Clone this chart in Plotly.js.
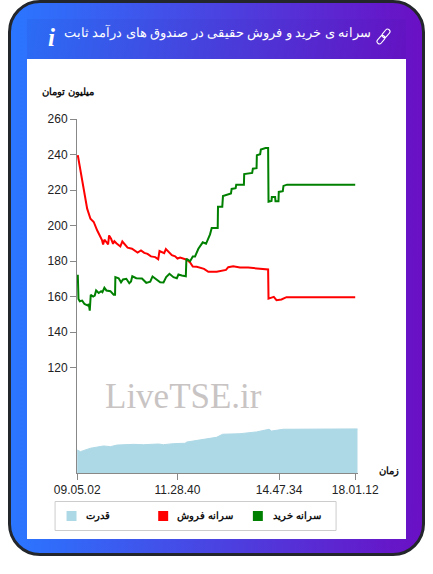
<!DOCTYPE html>
<html><head><meta charset="utf-8">
<script src="https://cdn.plot.ly/plotly-3.0.1.min.js"></script>
<style>
html,body{margin:0;padding:0;background:#fff;width:433px;height:574px;overflow:hidden}
#card{position:absolute;left:8px;top:0;width:411px;height:550px;border:3px solid #23262b;border-radius:32px;background:linear-gradient(90deg,#2a76ff 0%,#6a10c4 100%)}
#head{position:absolute;left:27px;top:19px;width:379px;height:40px;background:linear-gradient(100deg,#2b6cf5 0%,#6412c2 100%)}
#panel{position:absolute;left:27px;top:59px;width:379px;height:480px;background:#fff}
#icon{position:absolute;left:375px;top:28px}
#plot{position:absolute;left:0;top:0;width:433px;height:574px}
</style></head><body>
<div id="card"></div><div id="head"></div><div id="panel"></div>
<svg id="icon" width="17" height="17" viewBox="0 0 17 17" fill="none" stroke="#fff" stroke-width="1.1">
<rect x="8.6" y="0.6" width="4.8" height="9.5" rx="2.4" transform="rotate(40 11 5.4)"/>
<rect x="3.6" y="6.9" width="4.8" height="9.5" rx="2.4" transform="rotate(40 6 11.6)"/>
</svg>
<div id="plot"></div>
<script>
const titleText = 'سرانه ی خرید و فروش حقیقی در صندوق های درآمد ثابت';
const yUnit = 'میلیون تومان';
const xUnit = 'زمان';
const buyName = 'سرانه خرید';
const sellName = 'سرانه فروش';
const powerName = 'قدرت';
const watermark = 'LiveTSE.ir';

const tickIndex = [0.7, 101.3, 203.3, 279.7];
const tickTimes = ['09.05.02', '11.28.40', '14.47.34', '18.01.12'];
const yTicks = [120, 140, 160, 180, 200, 220, 240, 260];

const sellIdx = [1.3,3.3,5.7,8,10.7,14,17.3,20.7,24,25.7,26.7,28,30,31.7,32.7,34.7,36.7,38,40,42.3,44,46,48,51.3,55.7,59,61.3,64.7,68,71.3,74.7,79,82,83.3,85.7,88,89.7,92.3,95.7,99,101.3,104,107.3,110.7,114,116.7,120.7,124,128,132.3,140.7,150,152.3,157.3,164,172.3,180.7,192.3,192.7,195.7,198,200.7,205.7,210.7,279.7];
const sellVal = [239.6,233,225.5,218,209.5,203.8,202,197.3,193.5,191.6,189.3,192,190.7,189.3,194.4,192.5,189.7,191.2,190,188.8,188.2,191,189.7,187.5,186.9,185.6,184.8,186,184.6,184,182.6,182.2,181,185.6,184.8,184.4,186.7,185,183.3,182.6,181.4,182,181.2,180.7,179.2,176.9,176.7,176,175.6,173.9,173.9,175,176.5,177.1,176.3,176.3,175.8,175.2,158.8,159.2,159.8,157.9,158.3,159.6,159.6];

const buyIdx = [1.3,2,3.3,5.7,8,10,11.3,12.3,13.3,14.3,16.7,18.3,19.7,22.3,24.7,26,28,30,34,37.3,38.7,39,42.3,44.7,46.7,50,53,54.7,56,60,65.7,70,74,76.3,80.7,84,87.3,90,93.3,97.3,100.7,102.3,105.7,109.7,110.3,114,116.7,119,122.3,124,126.7,130,134,135.7,141.7,142,146.3,147,150.7,155,155.7,159.7,160.3,168,168.3,176.3,177,180.7,181,184.3,185,189.7,192.3,192.7,195.7,196,199.3,199.7,202.7,203,207,207.7,211.3,279.7];
const buyVal = [172.2,158.6,157.3,157.7,155.8,155.4,154.9,155.8,152,161,160,160.5,163.4,162,163,162.4,164.9,163.4,163,161,161,170.9,170.3,168,169.6,170,167.5,168.4,171.4,170.3,170.1,167.7,168.4,171.3,169.4,168,167.9,170.9,172.8,170.9,170.3,172.4,171.8,171.4,181.2,179.9,182.6,182.6,186.9,188.2,190.5,189.7,195,198.6,198.6,210.6,210.6,216.6,217.4,218,220.6,221,223,222.9,229,229.6,232,232.3,239.6,240.2,242.8,243.6,243.6,213.4,213.8,216,216,213.6,213.6,218.9,219.3,222.3,223,223];

const powerIdx = [0.7,4,14,27.3,34,40.7,57.3,67.3,82.3,87.3,97.3,109,110.7,124,140.7,146.7,164,180.7,193.3,195.7,207.3,282];
const powerVal = [73.5,72.6,74.5,75.8,75.4,76.3,76.7,76.5,76.9,76.5,77.1,77.3,78,79.2,80.7,82.4,82.7,83.7,85.2,84.2,85.2,85.4];

const W = 433, H = 574, L = 76.5, R = 358.5, T = 119, B = 473;
const px = x => (x - L) / (R - L);
const py = y => (B - y) / (B - T);
const fa = 'Liberation Sans, sans-serif';
const note = (x, y, text, size, color, extra) => Object.assign({
  xref: 'paper', yref: 'paper', x: px(x), y: py(y), text, showarrow: false,
  xanchor: 'center', yanchor: 'middle', font: {family: fa, size, color}
}, extra || {});
const swatch = (x, color) => ({type: 'rect', xref: 'paper', yref: 'paper', x0: px(x), x1: px(x + 10), y0: py(521), y1: py(511), fillcolor: color, line: {width: 0}, layer: 'above'});

const traces = [
  {x: powerIdx, y: powerVal, type: 'scatter', mode: 'lines', name: powerName, fill: 'tozeroy', fillcolor: '#add8e6', line: {color: '#add8e6', width: 1}},
  {x: sellIdx, y: sellVal, type: 'scatter', mode: 'lines', name: sellName, line: {color: '#ff0000', width: 2}},
  {x: buyIdx, y: buyVal, type: 'scatter', mode: 'lines', name: buyName, line: {color: '#008000', width: 2}}
];
const layout = {
  width: W, height: H, showlegend: false,
  paper_bgcolor: 'rgba(0,0,0,0)', plot_bgcolor: 'rgba(0,0,0,0)',
  margin: {l: L, r: W - R, t: T, b: H - B, pad: 0},
  title: {text: titleText, x: 217.5 / W, xref: 'container', xanchor: 'center', y: 1 - 33 / H, yref: 'container', yanchor: 'middle', font: {family: fa, size: 12.5, color: '#fff'}},
  xaxis: {range: [0.5, 282.5], tickmode: 'array', tickvals: tickIndex, ticktext: tickTimes, ticks: 'outside', ticklen: 6, tickcolor: '#888', linecolor: '#888', showline: true, showgrid: false, zeroline: false, tickfont: {family: 'Liberation Sans, Arial', size: 12, color: '#222'}},
  yaxis: {range: [260 - (B - T) / 1.775, 260], tickmode: 'array', tickvals: yTicks, ticktext: yTicks.map(String), ticks: 'outside', ticklen: 6, tickcolor: '#888', linecolor: '#888', showline: true, showgrid: false, zeroline: false, tickfont: {family: 'Liberation Sans, Arial', size: 12, color: '#222'}},
  shapes: [
    {type: 'rect', xref: 'paper', yref: 'paper', x0: px(54.5), x1: px(336.5), y0: py(530.5), y1: py(501.5), line: {color: '#ccc', width: 1}, fillcolor: '#fff'},
    swatch(66, '#add8e6'), swatch(158, '#ff0000'), swatch(253, '#008000')
  ],
  annotations: [
    note(50.5, 37, '<b><i>i</i></b>', 25, '#fff', {font: {family: 'Liberation Serif, serif', size: 25, color: '#fff'}}),
    note(67.5, 92, '<b>' + yUnit + '</b>', 10.4, '#111'),
    note(390, 471, '<b>' + xUnit + '</b>', 10, '#111'),
    note(183.5, 396, watermark, 35, '#c9c4c4', {font: {family: 'Liberation Serif, serif', size: 35, color: '#c9c4c4'}}),
    note(98, 516, '<b>' + powerName + '</b>', 10, '#111'),
    note(204.5, 516, '<b>' + sellName + '</b>', 9.7, '#111'),
    note(297.5, 516, '<b>' + buyName + '</b>', 10, '#111')
  ]
};
Plotly.newPlot('plot', traces, layout, {displayModeBar: false, staticPlot: true});
</script>
</body></html>
